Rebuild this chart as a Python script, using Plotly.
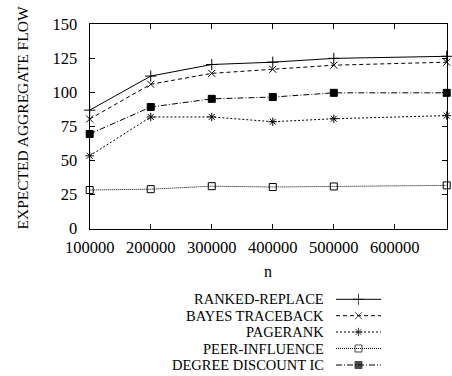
import plotly.graph_objects as go

n_values = [100000, 200000, 300000, 400000, 500000, 685000]
ranked_replace = [87, 112, 120.5, 122.2, 125, 126.5]
bayes_traceback = [80.5, 106, 114, 117, 120, 122.2]
pagerank = [53.5, 82, 82, 78.5, 80.7, 83]
peer_influence = [28.4, 29, 31.2, 30.6, 31, 31.8]
degree_discount = [69.5, 89.3, 95.3, 96.6, 99.7, 99.7]

x_ticks = [100000, 200000, 300000, 400000, 500000, 600000]
y_ticks = [0, 25, 50, 75, 100, 125, 150]

series = [
    ("RANKED-REPLACE", ranked_replace, "solid", "cross-thin-open", 8),
    ("BAYES TRACEBACK", bayes_traceback, "4px,3px", "x-thin-open", 7),
    ("PAGERANK", pagerank, "2px,2px", "asterisk-open", 7),
    ("PEER-INFLUENCE", peer_influence, "1px,1px", "square-open", 7),
    ("DEGREE DISCOUNT IC", degree_discount, "6px,2px,1px,2px", "square", 7),
]

FONT = "Times New Roman, Liberation Serif, Times, serif"
W, H = 452, 376
L, R, T, B = 89.7, 446.7, 24.3, 228.7
LEG_TOP, LEG_BOT = 285.0, 376.0

fig = go.Figure()
for name, vals, dash, sym, sz in series:
    fig.add_trace(go.Scatter(
        x=n_values, y=vals, mode="lines+markers", name=name,
        line=dict(color="black", width=1, dash=dash),
        marker=dict(symbol=sym, size=sz, color="black",
                    line=dict(color="black", width=1)),
        showlegend=False, cliponaxis=False,
    ))

# custom legend (text on left, sample on right)
rows = [299.3, 315.7, 332.0, 348.5, 365.0]
annotations = []
for (name, vals, dash, sym, sz), ry in zip(series, rows):
    fig.add_trace(go.Scatter(
        x=[0, 0.5, 1], y=[ry, ry, ry], mode="lines+markers",
        line=dict(color="black", width=1, dash=dash),
        marker=dict(symbol=sym, size=[0, sz, 0], color="black",
                    line=dict(color="black", width=1)),
        xaxis="x2", yaxis="y2", showlegend=False, hoverinfo="skip",
        cliponaxis=False,
    ))
    annotations.append(dict(
        x=325 / W, y=(H - ry) / H, xref="paper", yref="paper",
        text=name, showarrow=False, xanchor="right", yanchor="middle",
        borderpad=0,
        font=dict(family=FONT, size=14.5, color="black"),
    ))

annotations.append(dict(
    x=21.5 / W, y=(H - 118) / H, xref="paper", yref="paper",
    text="EXPECTED AGGREGATE FLOW", showarrow=False, textangle=-90,
    xanchor="center", yanchor="middle",
    font=dict(family=FONT, size=15.5, color="black"),
))
annotations.append(dict(
    x=268 / W, y=(H - 271.5) / H, xref="paper", yref="paper",
    text="n", showarrow=False, xanchor="center", yanchor="middle",
    font=dict(family=FONT, size=16, color="black"),
))

axis_common = dict(
    showgrid=False, zeroline=False, showline=True, linecolor="black",
    linewidth=1.3, mirror="allticks", ticks="inside", ticklen=5,
    tickcolor="black", tickwidth=1,
    tickfont=dict(family=FONT, size=16.5, color="black"), automargin=False,
)

fig.update_layout(
    width=W, height=H,
    margin=dict(l=0, r=0, t=0, b=0),
    paper_bgcolor="white", plot_bgcolor="rgba(0,0,0,0)",
    font=dict(family=FONT, color="black"),
    xaxis=dict(domain=[L / W, R / W], range=[100000, 685000],
               tickvals=x_ticks, ticktext=[str(v) for v in x_ticks],
               ticklabelstandoff=3, **axis_common),
    yaxis=dict(domain=[(H - B) / H, (H - T) / H], range=[0, 150],
               tickvals=y_ticks, ticktext=[str(v) for v in y_ticks],
               ticklabelstandoff=8, **axis_common),
    xaxis2=dict(domain=[336 / W, 381 / W], range=[0, 1], visible=False,
                anchor="y2"),
    yaxis2=dict(domain=[(H - LEG_BOT) / H, (H - LEG_TOP) / H],
                range=[LEG_BOT, LEG_TOP], visible=False, anchor="x2"),
    annotations=annotations,
    showlegend=False,
)

fig.write_html("out.html", config={"displayModeBar": False},
               post_script="document.body.style.margin='0';document.body.style.overflow='hidden';")
